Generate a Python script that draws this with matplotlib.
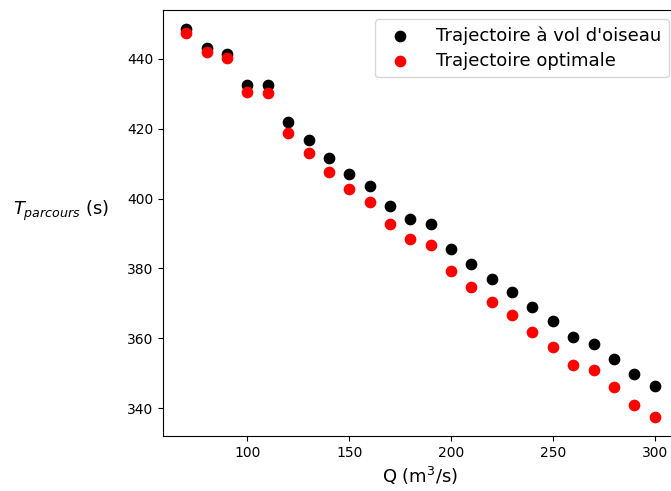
import matplotlib.pyplot as plt

# debit (m3/s)
Q = [70, 80, 90, 100, 110, 120, 130, 140, 150, 160, 170, 180,
     190, 200, 210, 220, 230, 240, 250, 260, 270, 280, 290, 300]

# temps de parcours (s)
t_oiseau = [448.4, 443.1, 441.4, 432.6, 432.6, 422.0, 416.7, 411.6, 407.0, 403.7, 397.9, 394.2,
            392.6, 385.6, 381.2, 377.0, 373.3, 368.9, 364.9, 360.4, 358.4, 354.0, 349.9, 346.5]
t_optimal = [447.5, 441.9, 440.3, 430.5, 430.2, 418.8, 413.1, 407.5, 402.7, 399.0, 392.8, 388.5,
             386.6, 379.2, 374.8, 370.5, 366.6, 361.8, 357.5, 352.4, 350.8, 346.2, 341.0, 337.6]

fig = plt.figure(figsize=(6.71, 4.91), dpi=100)
ax = fig.add_axes([163 / 671, 55 / 491, 515 / 671, 426 / 491])

ax.scatter(Q, t_oiseau, color='black', s=55, label="Trajectoire à vol d'oiseau")
ax.scatter(Q, t_optimal, color='red', s=55, label='Trajectoire optimale')

ax.set_xlabel('Q (m$^3$/s)', fontsize=13)
ax.set_ylabel('$T_{parcours}$ (s)', fontsize=13, rotation=0, labelpad=47)
ax.legend(fontsize=13, loc='upper right', labelspacing=0.4, handletextpad=1.0)

fig.savefig('out.png', dpi=100)
